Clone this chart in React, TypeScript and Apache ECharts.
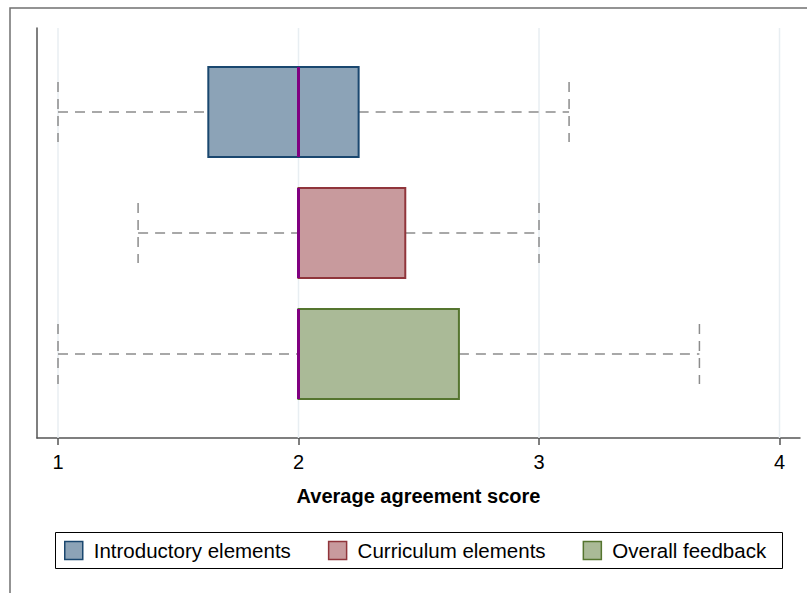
import React, { useEffect, useRef } from "react";
import * as echarts from "echarts";

const groups = ["Introductory elements", "Curriculum elements", "Overall feedback"];
const positions = [1, 2, 3];
const lowerWhisker = [1, 1.333, 1];
const q1 = [1.625, 2, 2];
const median = [2, 2, 2];
const q3 = [2.25, 2.444, 2.667];
const upperWhisker = [3.125, 3, 3.667];
const tickValues = [1, 2, 3, 4];
const fills = ["#8ca3b7", "#c89a9d", "#aaba97"];
const borders = ["#1a476f", "#90353b", "#55752f"];

const FONT = "'Liberation Sans', Arial, Helvetica, sans-serif";

export default function App() {
  const ref = useRef<HTMLDivElement>(null);
  useEffect(() => {
    if (!ref.current) return;
    const chart = echarts.init(ref.current, null, { renderer: "svg" });
    const dash = { stroke: "#8c8c8c", lineWidth: 1.5, lineDash: [10, 7], fill: "none" };

    const boxSeries = groups.map((name, i) => ({
      type: "custom",
      name,
      z: 3,
      itemStyle: { color: fills[i], borderColor: borders[i], borderWidth: 1.5 },
      data: [[positions[i], lowerWhisker[i], q1[i], median[i], q3[i], upperWhisker[i]]],
      renderItem: (params: any, api: any) => {
        const y = api.value(0);
        const lo = api.coord([api.value(1), y]);
        const a = api.coord([api.value(2), y]);
        const m = api.coord([api.value(3), y]);
        const b = api.coord([api.value(4), y]);
        const hi = api.coord([api.value(5), y]);
        const boxHalf = Math.abs(api.size([0, 0.372])[1]);
        const capHalf = Math.abs(api.size([0, 0.248])[1]);
        const cy = lo[1];
        return {
          type: "group",
          children: [
            { type: "line", shape: { x1: lo[0], y1: cy, x2: a[0], y2: cy }, style: dash },
            { type: "line", shape: { x1: b[0], y1: cy, x2: hi[0], y2: cy }, style: dash },
            { type: "line", shape: { x1: lo[0], y1: cy - capHalf, x2: lo[0], y2: cy + capHalf }, style: dash },
            { type: "line", shape: { x1: hi[0], y1: cy - capHalf, x2: hi[0], y2: cy + capHalf }, style: dash },
            {
              type: "rect",
              shape: { x: a[0], y: cy - boxHalf, width: b[0] - a[0], height: boxHalf * 2 },
              style: { fill: fills[i], stroke: borders[i], lineWidth: 2 },
            },
            {
              type: "line",
              shape: { x1: m[0], y1: cy - boxHalf, x2: m[0], y2: cy + boxHalf },
              style: { stroke: "#800080", lineWidth: 3 },
            },
          ],
        };
      },
    }));

    const option: any = {
      animation: false,
      backgroundColor: "#ffffff",
      textStyle: { fontFamily: FONT },
      grid: { left: 37, right: 7, top: 28, bottom: 155, containLabel: false },
      xAxis: {
        type: "value",
        min: 0.91268,
        max: 4.0852,
        name: "Average agreement score",
        nameLocation: "middle",
        nameGap: 48,
        nameTextStyle: { fontSize: 20, fontWeight: "bold", color: "#000", fontFamily: FONT },
        axisLine: { show: true, lineStyle: { color: "#555555", width: 1.5 } },
        axisTick: {
          show: true,
          customValues: tickValues,
          length: 7,
          lineStyle: { color: "#555555", width: 1.5 },
        },
        axisLabel: {
          customValues: tickValues,
          margin: 14,
          fontSize: 20,
          color: "#000",
          fontFamily: FONT,
        },
        splitLine: { show: false },
      },
      yAxis: {
        type: "value",
        min: 0.3058,
        max: 3.6942,
        inverse: true,
        axisLine: { show: true, lineStyle: { color: "#555555", width: 1.5 } },
        axisTick: { show: false },
        axisLabel: { show: false },
        splitLine: { show: false },
      },
      legend: {
        left: 64,
        top: 540,
        padding: 0,
        icon: "rect",
        itemWidth: 18,
        itemHeight: 18,
        itemGap: 37,
        textStyle: { fontSize: 20.5, color: "#000", fontFamily: FONT, padding: [0, 0, 0, 6] },
        data: groups.map((name, i) => ({
          name,
          itemStyle: { color: fills[i], borderColor: borders[i], borderWidth: 1.5 },
        })),
      },
      graphic: [
        {
          type: "rect",
          silent: true,
          shape: { x: 10, y: 8, width: 830, height: 620 },
          style: { fill: "none", stroke: "#707070", lineWidth: 1.5 },
        },
        {
          type: "rect",
          silent: true,
          shape: { x: 55.5, y: 532.5, width: 727, height: 36 },
          style: { fill: "none", stroke: "#000000", lineWidth: 1 },
        },
      ],
      series: [
        {
          type: "custom",
          name: "grid",
          z: 1,
          silent: true,
          data: tickValues.map((v) => [v]),
          renderItem: (params: any, api: any) => {
            const cs = params.coordSys;
            const x = api.coord([api.value(0), 1])[0];
            return {
              type: "line",
              shape: { x1: x, y1: cs.y, x2: x, y2: cs.y + cs.height },
              style: { stroke: "#e8eef2", lineWidth: 1.5 },
            };
          },
        },
        ...boxSeries,
      ],
    };
    chart.setOption(option);
    return () => chart.dispose();
  }, []);
  return (
    <div
      ref={ref}
      style={{ position: "fixed", left: 0, top: 0, width: 807, height: 593, background: "#fff" }}
    />
  );
}
